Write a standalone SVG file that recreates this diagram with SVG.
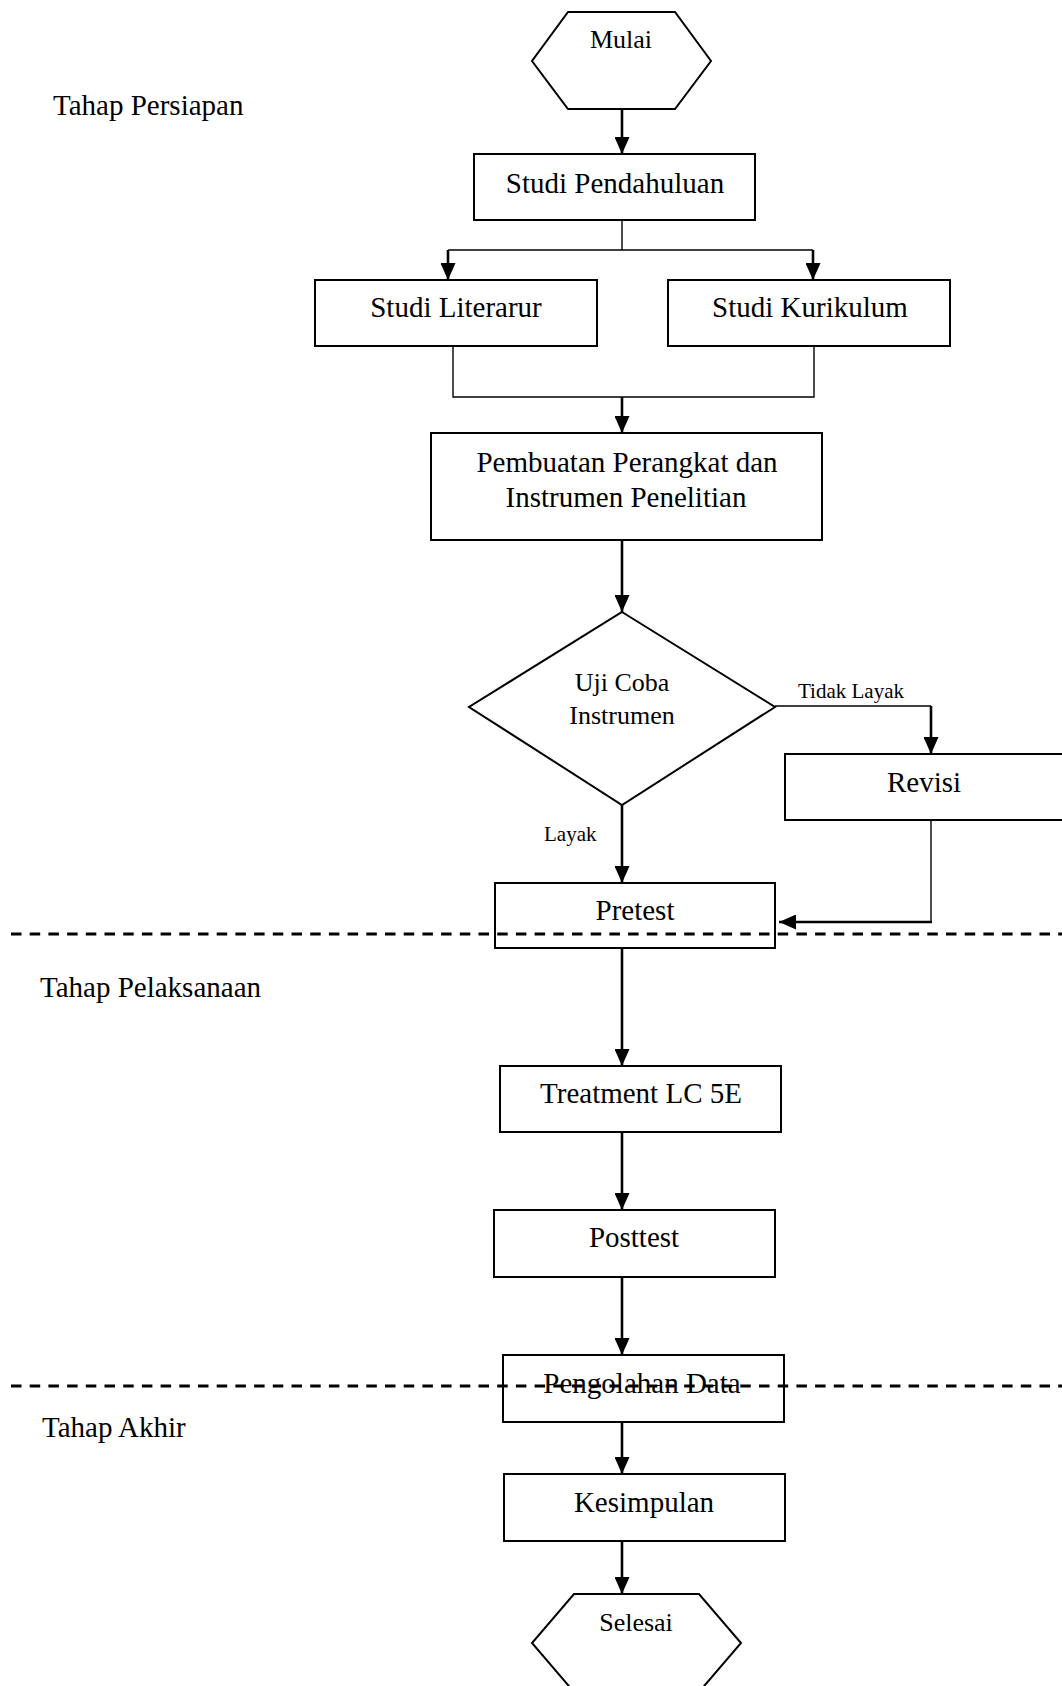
<svg xmlns="http://www.w3.org/2000/svg" width="1062" height="1686" viewBox="0 0 1062 1686">
<style>
.box{fill:#fff;stroke:#000;stroke-width:2}
.t{font-family:"Liberation Serif","Times New Roman",serif;fill:#000}
.big{font-size:29px}
.mid{font-size:26px}
.sm{font-size:21px}
.c{text-anchor:middle}
.thin{fill:none;stroke:#000;stroke-width:1.4}
.thick{fill:none;stroke:#000;stroke-width:2.6}
.dash{fill:none;stroke:#000;stroke-width:2.8;stroke-dasharray:10.5 8.2}
</style>
<defs>
<marker id="ah" markerUnits="userSpaceOnUse" viewBox="0 0 17 15" markerWidth="17" markerHeight="15" refX="17" refY="7.5" orient="auto">
<path d="M0,0 L17,7.5 L0,15 Z" fill="#000"/>
</marker>
</defs>
<rect width="1062" height="1686" fill="#fff"/>
<g id="labels">
<text class="t big" x="53" y="115">Tahap Persiapan</text>
<text class="t big" x="40" y="997">Tahap Pelaksanaan</text>
<text class="t big" x="42" y="1437">Tahap Akhir</text>
</g>
<g id="connectors">
<line class="thick" x1="622" y1="109" x2="622" y2="154" marker-end="url(#ah)"/>
<polyline class="thin" points="622,220 622,250"/>
<polyline class="thin" points="448,250 813,250"/>
<line class="thick" x1="448" y1="250" x2="448" y2="280" marker-end="url(#ah)"/>
<line class="thick" x1="813" y1="250" x2="813" y2="280" marker-end="url(#ah)"/>
<polyline class="thin" points="453,346 453,397 814,397 814,346"/>
<line class="thick" x1="622" y1="397" x2="622" y2="433" marker-end="url(#ah)"/>
<line class="thick" x1="622" y1="540" x2="622" y2="612" marker-end="url(#ah)"/>
<polyline class="thin" points="775,706 931,706"/>
<line class="thick" x1="931" y1="706" x2="931" y2="754" marker-end="url(#ah)"/>
<polyline class="thin" points="931,820 931,922"/>
<line class="thick" x1="932" y1="922" x2="779" y2="922" marker-end="url(#ah)"/>
<line class="thick" x1="622" y1="805" x2="622" y2="883" marker-end="url(#ah)"/>
<line class="thick" x1="622" y1="948" x2="622" y2="1066" marker-end="url(#ah)"/>
<line class="thick" x1="622" y1="1132" x2="622" y2="1210" marker-end="url(#ah)"/>
<line class="thick" x1="622" y1="1277" x2="622" y2="1355" marker-end="url(#ah)"/>
<line class="thick" x1="622" y1="1422" x2="622" y2="1474" marker-end="url(#ah)"/>
<line class="thick" x1="622" y1="1541" x2="622" y2="1594" marker-end="url(#ah)"/>
<text class="t sm" x="798" y="698">Tidak Layak</text>
<text class="t sm" x="544" y="841">Layak</text>
</g>
<g id="mulai">
<polygon class="box" points="568,12 675,12 711,61 675,109 568,109 532,61"/>
<text class="t mid c" x="621" y="48">Mulai</text>
</g>
<g id="studi-pendahuluan">
<rect class="box" x="474" y="154" width="281" height="66"/>
<text class="t big c" x="615" y="193">Studi Pendahuluan</text>
</g>
<g id="studi-literarur">
<rect class="box" x="315" y="280" width="282" height="66"/>
<text class="t big c" x="456" y="317">Studi Literarur</text>
</g>
<g id="studi-kurikulum">
<rect class="box" x="668" y="280" width="282" height="66"/>
<text class="t big c" x="810" y="317">Studi Kurikulum</text>
</g>
<g id="pembuatan">
<rect class="box" x="431" y="433" width="391" height="107"/>
<text class="t big c" x="627" y="472">Pembuatan Perangkat dan</text>
<text class="t big c" x="626" y="507">Instrumen Penelitian</text>
</g>
<g id="uji-coba">
<polygon class="box" points="622,612 775,707 622,805 469,707"/>
<text class="t mid c" x="622" y="691">Uji Coba</text>
<text class="t mid c" x="622" y="724">Instrumen</text>
</g>
<g id="revisi">
<rect class="box" x="785" y="754" width="300" height="66"/>
<text class="t big c" x="924" y="792">Revisi</text>
</g>
<g id="pretest">
<rect class="box" x="495" y="883" width="280" height="65"/>
<text class="t big c" x="635" y="920">Pretest</text>
</g>
<g id="treatment">
<rect class="box" x="500" y="1066" width="281" height="66"/>
<text class="t big c" x="641" y="1103">Treatment LC 5E</text>
</g>
<g id="posttest">
<rect class="box" x="494" y="1210" width="281" height="67"/>
<text class="t big c" x="634" y="1247">Posttest</text>
</g>
<g id="pengolahan">
<rect class="box" x="503" y="1355" width="281" height="67"/>
<text class="t big c" x="642" y="1393">Pengolahan Data</text>
</g>
<g id="kesimpulan">
<rect class="box" x="504" y="1474" width="281" height="67"/>
<text class="t big c" x="644" y="1512">Kesimpulan</text>
</g>
<g id="selesai">
<polygon class="box" points="574,1594 699,1594 741,1643 699,1692 574,1692 532,1643"/>
<text class="t mid c" x="636" y="1631">Selesai</text>
</g>
<g id="phase-dividers">
<line class="dash" x1="11" y1="934" x2="1062" y2="934"/>
<line class="dash" x1="11" y1="1386" x2="1062" y2="1386"/>
</g>
</svg>
